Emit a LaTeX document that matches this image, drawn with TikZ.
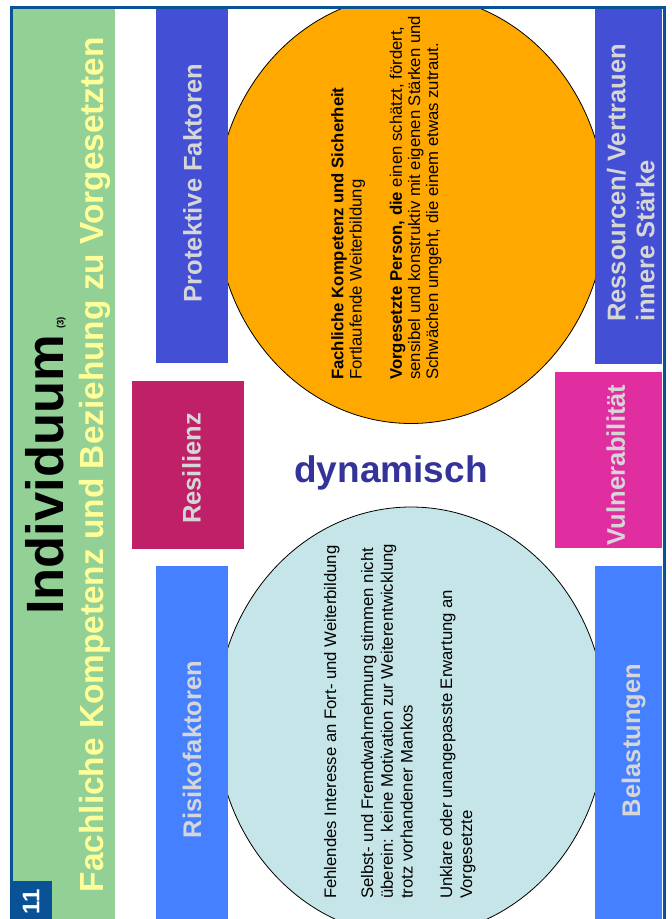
\documentclass[tikz,border=0pt]{standalone}
\usepackage{fontspec}
\setmainfont{Liberation Sans}
\usepackage{tikz}
\definecolor{framblue}{RGB}{10,82,150}
\definecolor{bandgreen}{RGB}{147,208,150}
\definecolor{subyellow}{RGB}{255,255,153}
\definecolor{protblue}{RGB}{67,80,213}
\definecolor{riskblue}{RGB}{68,128,255}
\definecolor{resred}{RGB}{191,32,104}
\definecolor{vulpink}{RGB}{224,46,160}
\definecolor{lblgrey}{RGB}{214,214,214}
\definecolor{bloborange}{RGB}{255,168,0}
\definecolor{blobcyan}{RGB}{197,229,232}
\definecolor{dynblue}{RGB}{51,51,153}

\begin{document}
\begin{tikzpicture}[x=1pt,y=-1pt,
        lbl/.style={rotate=90,anchor=base,inner sep=0pt,text=lblgrey,font=\fontsize{25.5}{29}\selectfont\bfseries},
        blob/.style={draw=black,line width=0.8pt},
        txt/.style={rotate=90,anchor=north west,inner sep=0pt,align=left}]
            \useasboundingbox (0,0) rectangle (672,919);
            \fill[bandgreen] (13,9) rectangle (115,919);
            \begin{scope}
                \clip (13,9) rectangle (662,919);
                \filldraw[blob,fill=bloborange] (411,209) ellipse (195pt and 214.5pt);
                \filldraw[blob,fill=blobcyan] (411,721.5) ellipse (195pt and 214.5pt);
            \end{scope}
            \fill[protblue] (156,9) rectangle (228,363);
            \fill[resred] (132,381) rectangle (244,549);
            \fill[riskblue] (156,566) rectangle (228,919);
            \fill[protblue] (595,9) rectangle (662,364);
            \fill[vulpink] (555,372) rectangle (662,548);
            \fill[riskblue] (595,566) rectangle (662,919);
            \node[lbl] (protektiv) at (201.7,183) {Protektive Faktoren};
            \node[lbl] (resilienz) at (200.7,468.5) {Resilienz};
            \node[lbl] (risiko) at (201,749.5) {Risikofaktoren};
            \node[lbl,anchor=north west,align=left] (ressourcen) at (606.7,322) {Ressourcen/ Vertrauen\\innere Stärke};
            \node[lbl] (vulner) at (624.8,465) {Vulnerabilität};
            \node[lbl] (belast) at (640,740.5) {Belastungen};
            \node[txt,font=\fontsize{16.7}{18.2}\selectfont] (staerke) at (331.1,380)
                {\textbf{Fachliche Kompetenz und Sicherheit}\\Fortlaufende Weiterbildung\\[22pt]\textbf{Vorgesetzte Person, die} einen schätzt, fördert,\\sensibel und konstruktiv mit eigenen Stärken und\\Schwächen umgeht, die einem etwas zutraut.};
            \node[txt,font=\fontsize{16.7}{19.8}\selectfont] (mangel) at (323.8,899)
                {Fehlendes Interesse an Fort- und Weiterbildung\\[17.2pt]Selbst- und Fremdwahrnehmung stimmen nicht\\überein: keine Motivation zur Weiterentwicklung\\trotz vorhandener Mankos\\[19.7pt]Unklare oder unangepasste Erwartung an\\Vorgesetzte};
            \node[anchor=base,inner sep=0pt,text=dynblue,font=\fontsize{37}{44}\selectfont\bfseries] (dynamisch) at (391,482) {dynamisch};
            \node[rotate=90,anchor=base west,inner sep=0pt,font=\fontsize{52.5}{60}\selectfont\bfseries] (titel) at (63.5,615)
                {Individuum\hspace{6pt}{\fontsize{9.5}{11}\selectfont(3)}};
            \node[rotate=90,anchor=base west,inner sep=0pt,text=subyellow,font=\fontsize{33.4}{40}\selectfont\bfseries] (untertitel) at (103.5,892.4)
                {Fachliche Kompetenz und Beziehung zu Vorgesetzten};
            \draw[framblue,line width=3pt] (11.5,919) -- (11.5,7.5) -- (664.5,7.5) -- (664.5,919);
            \fill[framblue] (10,881) rectangle (52,919);
            \node[rotate=90,inner sep=0pt,text=white,font=\fontsize{24}{28}\selectfont\bfseries] (nummer) at (31,901.7) {11};
\end{tikzpicture}
\end{document}
